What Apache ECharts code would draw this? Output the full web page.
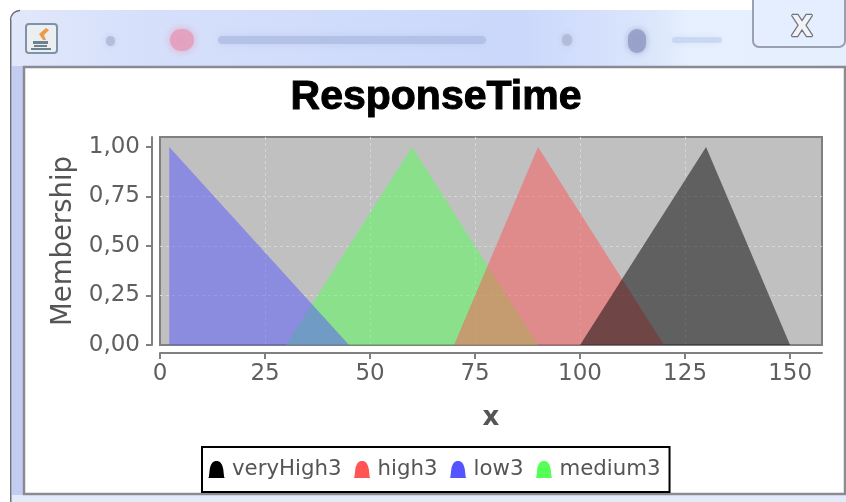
<!DOCTYPE html>
<html>
<head>
<meta charset="utf-8">
<style>
html,body{margin:0;padding:0;background:#fff;overflow:hidden}
#chart{width:846px;height:502px;filter:blur(0.6px)}
</style>
<script src="https://cdn.jsdelivr.net/npm/echarts@6/dist/echarts.min.js"></script>
</head>
<body>
<div id="chart"></div>
<script>
var titleText = 'ResponseTime';
var xName = 'x';
var yName = 'Membership';
var xTicks = [0, 25, 50, 75, 100, 125, 150];
var yTicks = [0, 0.25, 0.5, 0.75, 1];
var medium3 = [[30, 0], [60, 1], [90, 0]];
var low3 = [[2.2, 0], [2.2, 1], [45, 0]];
var high3 = [[70, 0], [90, 1], [120, 0]];
var veryHigh3 = [[100, 0], [130, 1], [150, 0]];
var legendOrder = ['veryHigh3', 'high3', 'low3', 'medium3'];
var solid = {veryHigh3: '#000000', high3: '#ff5555', low3: '#5555ff', medium3: '#55ff55'};
var fill = {veryHigh3: 'rgba(0,0,0,0.5)', high3: 'rgba(255,85,85,0.5)', low3: 'rgba(85,85,255,0.5)', medium3: 'rgba(85,255,85,0.5)'};

function area(name, data) {
  return {
    name: name, type: 'line', data: data, showSymbol: false, symbol: 'none', silent: true,
    lineStyle: {width: 0, opacity: 0}, itemStyle: {color: solid[name]},
    areaStyle: {color: fill[name], opacity: 1}
  };
}
var BELL = 'path://M0 20 L1 19 L2 10 C3 3 6 0 10 0 C14 0 17 3 18 10 L19 19 L20 20 Z';
var titleGrad = {type: 'linear', x: 0, y: 0, x2: 1, y2: 0, colorStops: [
  {offset: 0, color: '#e2e8fb'}, {offset: 0.15, color: '#d6e0fb'}, {offset: 0.6, color: '#cbd8fb'},
  {offset: 0.76, color: '#dce7fc'}, {offset: 0.8, color: '#e6f0fe'}, {offset: 1, color: '#e6effe'}
]};
function blob(x, y, w, h, c, b) {
  return {type: 'rect', z: -9, shape: {x: x, y: y, width: w, height: h, r: h / 2},
    style: {fill: c, shadowBlur: b, shadowColor: c}};
}
var chrome = [
  {type: 'rect', z: -10, shape: {x: 10, y: 10, width: 850, height: 500, r: [10, 0, 0, 0]},
    style: {fill: titleGrad}},
  {type: 'rect', z: -10, shape: {x: 10, y: 20, width: 1.5, height: 482}, style: {fill: '#6f7078'}},
  {type: 'arc', z: -10, shape: {cx: 20, cy: 20, r: 9.5, startAngle: Math.PI, endAngle: 1.5 * Math.PI},
    style: {stroke: '#6f7078', lineWidth: 1.5, fill: null}},
  {type: 'rect', z: -10, shape: {x: 12, y: 66, width: 11, height: 436}, style: {fill: '#c3cdf1'}},
  {type: 'rect', z: -10, shape: {x: 12, y: 495, width: 834, height: 7}, style: {fill: '#e3ebfb'}},
  blob(170, 29, 24, 22, 'rgba(226,160,190,0.9)', 9),
  blob(218, 36, 268, 8, 'rgba(170,185,225,0.65)', 7),
  blob(106, 36, 9, 10, 'rgba(170,180,210,0.7)', 6),
  blob(562, 34, 10, 12, 'rgba(170,180,210,0.7)', 6),
  blob(628, 29, 18, 24, 'rgba(150,160,200,0.9)', 7),
  blob(672, 37, 50, 6, 'rgba(190,205,235,0.6)', 6),
  {type: 'rect', z: -8, shape: {x: 26, y: 24, width: 31, height: 29, r: 3},
    style: {fill: '#eceff2', stroke: '#7d93a6', lineWidth: 2}},
  {type: 'polygon', z: -7, shape: {points: [[46, 28], [39, 34], [43, 40], [46, 40], [44, 35], [49, 30]]},
    style: {fill: '#ee9a4d'}},
  {type: 'rect', z: -7, shape: {x: 33, y: 41, width: 15, height: 3}, style: {fill: '#6d8291'}},
  {type: 'rect', z: -7, shape: {x: 34, y: 45, width: 13, height: 2}, style: {fill: '#6d8291'}},
  {type: 'rect', z: -7, shape: {x: 31, y: 48, width: 20, height: 2}, style: {fill: '#6d8291'}},
  {type: 'rect', z: -7, shape: {x: 753, y: -6, width: 92, height: 53, r: 6},
    style: {fill: '#e4eefe', stroke: '#9aa0ad', lineWidth: 2}},
  {type: 'text', z: -6, style: {x: 802, y: 29, text: 'X', align: 'center', verticalAlign: 'middle',
    font: 'bold 28px "DejaVu Sans"', fill: '#f2f3f6', stroke: '#70737c', lineWidth: 2.5}},
  {type: 'rect', z: -5, shape: {x: 24, y: 67, width: 821, height: 427},
    style: {fill: '#ffffff', stroke: '#8a8b92', lineWidth: 2.5}}
];

var chart = echarts.init(document.getElementById('chart'));
var labelFont = {fontFamily: '"DejaVu Sans"', fontSize: 23, color: '#5f5f5f'};
var grid = {color: '#d6d6d6', type: [3, 3], width: 1};
chart.setOption({
  animation: false,
  title: {text: titleText, left: 431, top: 72, textAlign: 'center',
    textStyle: {fontFamily: '"Liberation Sans"', fontWeight: 'bold', fontSize: 41, color: '#000',
      textBorderColor: '#000', textBorderWidth: 1}},
  grid: {left: 160, top: 137, width: 662, height: 208, show: true, backgroundColor: '#c0c0c0',
    borderColor: '#808080', borderWidth: 2, containLabel: false},
  xAxis: {type: 'value', min: 0, max: 157.6, interval: 25, offset: 8, position: 'bottom',
    name: xName, nameLocation: 'middle', nameGap: 52,
    nameTextStyle: {fontFamily: '"DejaVu Sans"', fontWeight: 'bold', fontSize: 26, color: '#555'},
    axisLine: {show: true, onZero: false, lineStyle: {color: '#808080', width: 2}},
    axisTick: {show: true, length: 6, customValues: xTicks, lineStyle: {color: '#808080', width: 2}},
    axisLabel: Object.assign({margin: 10, customValues: xTicks}, labelFont),
    splitLine: {show: true, showMinLine: false, showMaxLine: false, lineStyle: grid}},
  yAxis: {type: 'value', min: 0, max: 1.05, interval: 0.25, offset: 8, position: 'left',
    name: yName, nameLocation: 'middle', nameGap: 68, nameRotate: 90,
    nameTextStyle: {fontFamily: '"DejaVu Sans"', fontSize: 27.5, color: '#555'},
    axisLine: {show: true, onZero: false, lineStyle: {color: '#808080', width: 2}},
    axisTick: {show: true, length: 6, customValues: yTicks, lineStyle: {color: '#808080', width: 2}},
    axisLabel: Object.assign({margin: 12, customValues: yTicks,
      formatter: function (v) { return v.toFixed(2).replace('.', ','); }}, labelFont),
    splitLine: {show: true, showMinLine: false, showMaxLine: false, lineStyle: grid}},
  legend: {left: 202, top: 447, orient: 'horizontal', icon: BELL, itemWidth: 17, itemHeight: 17, itemGap: 12,
    padding: [12, 9, 12, 6], borderColor: '#000', borderWidth: 2, backgroundColor: '#fff',
    textStyle: {fontFamily: '"DejaVu Sans"', fontSize: 21.3, color: '#555', padding: [0, 0, 0, 2]},
    selectedMode: false,
    data: legendOrder.map(function (n) { return {name: n, icon: BELL, itemStyle: {color: solid[n]}}; })},
  series: [area('medium3', medium3), area('low3', low3), area('high3', high3), area('veryHigh3', veryHigh3)],
  graphic: {elements: chrome}
});
</script>
</body>
</html>
